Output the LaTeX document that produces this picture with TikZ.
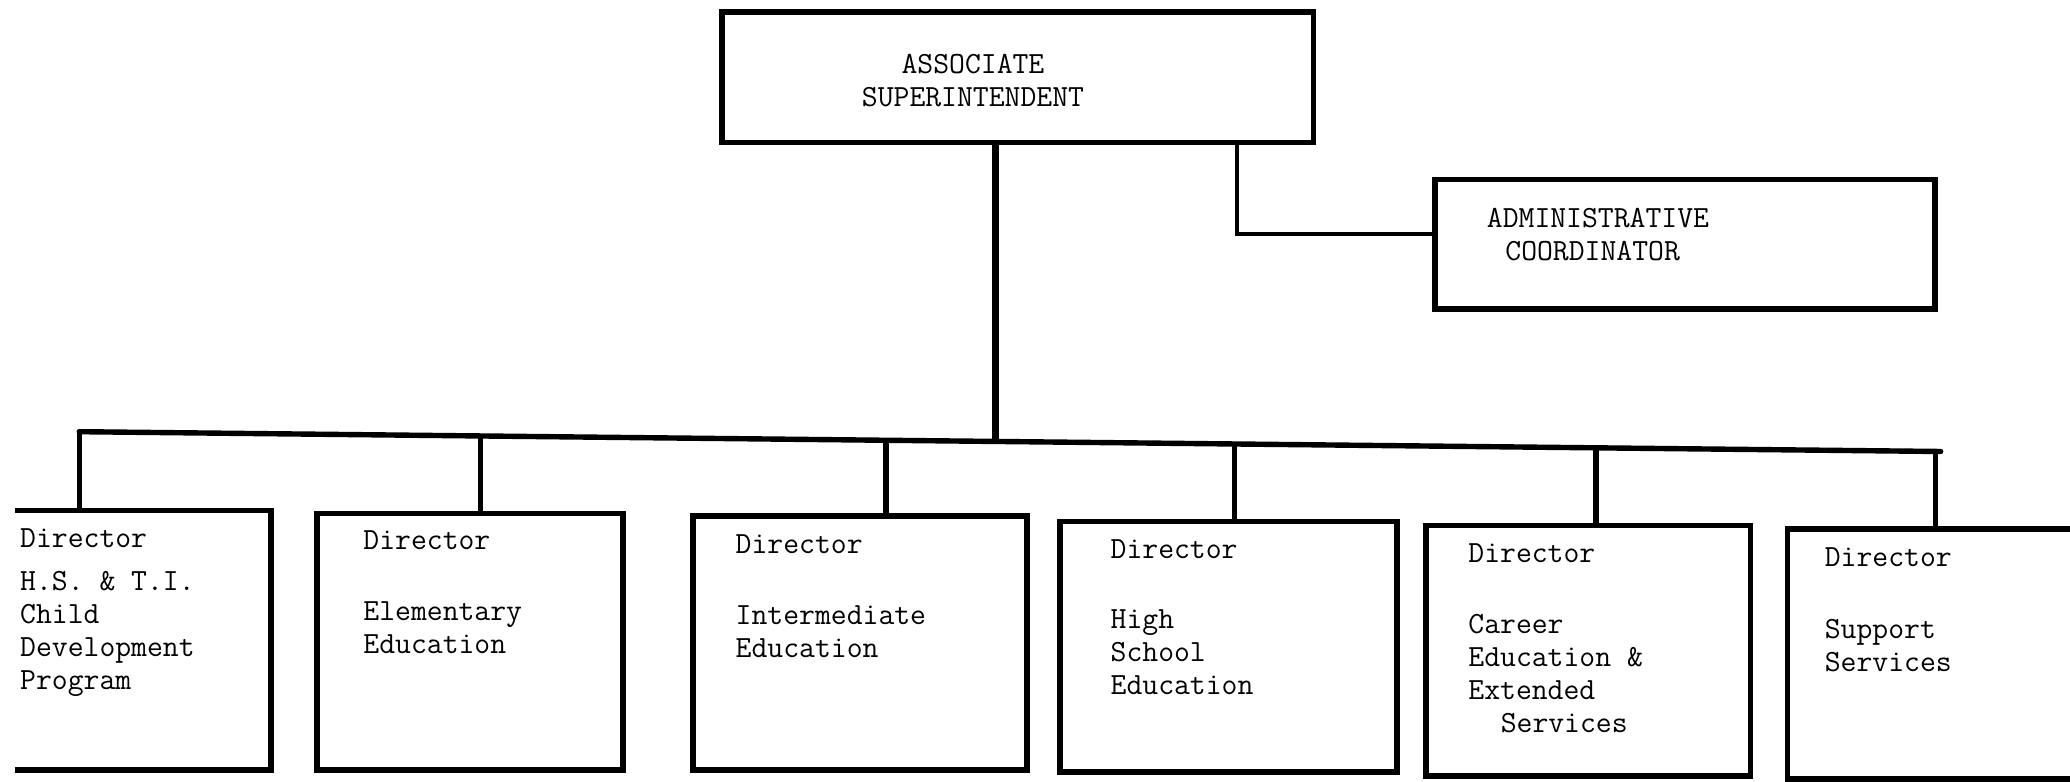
\documentclass[tikz,border=0pt]{standalone}
\usetikzlibrary{fit}
\newcommand\tlines[1]{\begin{tabular}[t]{@{}l@{}}#1\end{tabular}}
\newcommand\clines[1]{\begin{tabular}[t]{@{}c@{}}#1\end{tabular}}
\begin{document}
\begin{tikzpicture}[x=0.66pt,y=-0.66pt,
  box/.style={draw,line width=2.9pt,inner sep=0pt},
  openbox/.style={inner sep=0pt},
  conn/.style={line width=2.7pt},
  thinconn/.style={line width=2.1pt},
  txt/.style={inner sep=0pt,anchor=base west,font=\ttfamily\fontsize{15.4pt}{16.5pt}\selectfont},
  ctxt/.style={inner sep=0pt,anchor=base,font=\ttfamily\fontsize{15.4pt}{16.5pt}\selectfont}]
\clip (0,0) rectangle (1568,592);
\fill[white] (0,0) rectangle (1568,592);

% top boxes
\node[box,fit={(547,9) (995,108)}] (top) {};
\node[box,fit={(1087,136) (1466,234)}] (admin) {};

% bottom boxes
\node[openbox,fit={(12,387) (205,583)}] (b1) {};
\draw[line width=2.9pt] (b1.north west) -- (b1.north east) -- (b1.south east) -- (b1.south west);
\node[box,fit={(240,389) (472,583)}] (b2) {};
\node[box,fit={(525,391) (778,583)}] (b3) {};
\node[box,fit={(803,395) (1058,585)}] (b4) {};
\node[box,fit={(1080,398) (1326,588)}] (b5) {};
\node[box,fit={(1354,401) (1620,590)}] (b6) {};

% bus and junctions
\coordinate (busL) at (60,327);
\coordinate (busR) at (1470,342);
\coordinate (j0) at (754,334);
\coordinate (j1) at (60,327);
\coordinate (j2) at (364,330.2);
\coordinate (j3) at (671,333.5);
\coordinate (j4) at (935,336.3);
\coordinate (j5) at (1209,339.2);
\coordinate (j6) at (1466,342);
\coordinate (a0) at (937,177);

\draw[conn,line cap=round] (busL) -- (busR);
\draw[line width=3.3pt] (j0 |- top.south) -- (j0);
\draw[conn] (j1) -- (j1 |- b1.north);
\draw[conn] (j2) -- (j2 |- b2.north);
\draw[conn] (j3) -- (j3 |- b3.north);
\draw[conn] (j4) -- (j4 |- b4.north);
\draw[conn] (j5) -- (j5 |- b5.north);
\draw[conn] (j6) -- (j6 |- b6.north);
\draw[thinconn] (a0 |- top.south) -- (a0) -- (admin.west |- a0);

% texts
\node[ctxt] (ttop) at (737,56) {\clines{ASSOCIATE\\SUPERINTENDENT}};
\node[txt] (tadmin) at (1126,172) {\tlines{ADMINISTRATIVE\\\hspace*{0.6em}COORDINATOR}};

\node[txt] (d1) at (15,415) {Director};
\node[txt] (t1) at (15,447) {\tlines{H.S. \& T.I.\\Child\\Development\\Program}};
\node[txt] (d2) at (275,416) {Director};
\node[txt] (t2) at (275,470) {\tlines{Elementary\\Education}};
\node[txt] (d3) at (557,419) {Director};
\node[txt] (t3) at (557,473) {\tlines{Intermediate\\Education}};
\node[txt] (d4) at (841,423) {Director};
\node[txt] (t4) at (841,476) {\tlines{High\\School\\Education}};
\node[txt] (d5) at (1112,426) {Director};
\node[txt] (t5) at (1112,480) {\tlines{Career\\Education \&\\Extended\\\hspace*{1.05em}Services}};
\node[txt] (d6) at (1382,429) {Director};
\node[txt] (t6) at (1382,484) {\tlines{Support\\Services}};
\end{tikzpicture}
\end{document}
